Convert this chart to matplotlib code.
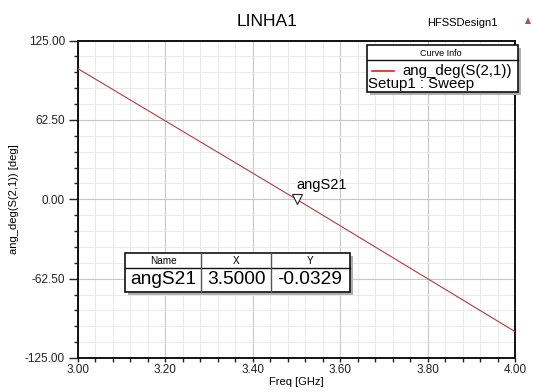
import numpy as np
import matplotlib.pyplot as plt
from matplotlib.patches import Rectangle, Polygon
from matplotlib.lines import Line2D
from matplotlib.ticker import MultipleLocator

plt.rcParams['font.family'] = ['Liberation Sans', 'DejaVu Sans']

# phase of S21 across the sweep
freq = [3.00, 3.50, 4.00]
ang_s21 = [102.8, -0.0329, -104.2]

marker_name = 'angS21'
marker_x = 3.5
marker_y = -0.0329

fig = plt.figure(figsize=(5.33, 3.92), dpi=100)
W, H = 533, 392


def fx(px):
    return px / W


def fy(py):
    return 1 - py / H


ax = fig.add_axes([fx(78), fy(358), fx(515) - fx(78), fy(40.5) - fy(358)])
ax.plot(freq, ang_s21, color='#b83a3a', lw=0.8, zorder=3)

ax.set_xlim(3.0, 4.0)
ax.set_ylim(-125, 125)
ax.xaxis.set_major_locator(MultipleLocator(0.2))
ax.xaxis.set_minor_locator(MultipleLocator(0.04))
ax.yaxis.set_major_locator(MultipleLocator(62.5))
ax.yaxis.set_minor_locator(MultipleLocator(12.5))
ax.xaxis.set_major_formatter(lambda v, p: f'{v:.2f}')
ax.yaxis.set_major_formatter(lambda v, p: f'{v:.2f}')
ax.grid(which='major', color='#c8c8c8', lw=0.8)
ax.grid(which='minor', color='#e6e6e6', lw=0.6)
ax.tick_params(which='both', direction='out', width=1, labelsize=8.5,
               colors='#222222')
ax.tick_params(axis='y', which='major', length=6.5, pad=3)
ax.tick_params(axis='y', which='minor', length=3)
ax.tick_params(axis='x', which='both', length=3, pad=1)
for s in ax.spines.values():
    s.set_linewidth(1.4)
    s.set_color('#111111')
ax.set_xlabel('Freq [GHz]', fontsize=8, labelpad=1)
ax.set_ylabel('ang_deg(S(2,1)) [deg]', fontsize=8, labelpad=4)

# marker on the trace
ax.plot([marker_x], [marker_y], marker='v', ms=6.5, mfc='white', mec='#222222',
        mew=0.8, zorder=4)
ax.annotate(marker_name, (marker_x, marker_y), xytext=(0, 5),
            textcoords='offset points', fontsize=10.5, ha='left', va='bottom')

# titles
fig.text(fx(267), fy(22), 'LINHA1', fontsize=12.5, ha='center', va='center')
fig.text(fx(462), fy(23), 'HFSSDesign1', fontsize=8, ha='center', va='center')
fig.patches.append(Polygon([[fx(525), fy(24)], [fx(531), fy(24)], [fx(528), fy(17)]],
                           closed=True, transform=fig.transFigure,
                           color='#b05050', lw=0))


def box(x0, y0, x1, y1, lw=1.2):
    # drop shadow then framed white box, pixel coords
    fig.patches.append(Rectangle((fx(x0 + 3), fy(y1 + 3)), fx(x1 - x0), fy(y0) - fy(y1),
                                 transform=fig.transFigure, color='#b0b0b0',
                                 lw=0, zorder=5))
    fig.patches.append(Rectangle((fx(x0), fy(y1)), fx(x1 - x0), fy(y0) - fy(y1),
                                 transform=fig.transFigure, fc='white',
                                 ec='#111111', lw=lw, zorder=6))


# curve info legend
box(367, 45, 518, 92)
fig.add_artist(Line2D([fx(367), fx(518)], [fy(60), fy(60)], color='#111111',
                      lw=1.0, zorder=7))
fig.text(fx(441), fy(53), 'Curve Info', fontsize=6.5, ha='center', va='center', zorder=7)
fig.add_artist(Line2D([fx(372), fx(394)], [fy(71), fy(71)], color='#e02020',
                      lw=1.2, zorder=7))
fig.text(fx(402), fy(71), 'ang_deg(S(2,1))', fontsize=10.8, ha='left', va='center', zorder=7)
fig.text(fx(368), fy(84), 'Setup1 : Sweep', fontsize=10.8, ha='left', va='center', zorder=7)

# marker table
box(125, 253, 350, 292)
fig.add_artist(Line2D([fx(125), fx(350)], [fy(268), fy(268)], color='#111111',
                      lw=1.0, zorder=7))
for cx in (201, 271):
    fig.add_artist(Line2D([fx(cx), fx(cx)], [fy(253), fy(292)], color='#555555',
                          lw=1.0, zorder=7))
cols = [(163, 'Name', marker_name), (236, 'X', f'{marker_x:.4f}'),
        (310, 'Y', f'{marker_y:.4f}')]
for cx, head, val in cols:
    fig.text(fx(cx), fy(261), head, fontsize=7.2, ha='center', va='center', zorder=7)
    fig.text(fx(cx), fy(280), val, fontsize=13.8, ha='center', va='center', zorder=7)

fig.savefig('out.png', dpi=100)
